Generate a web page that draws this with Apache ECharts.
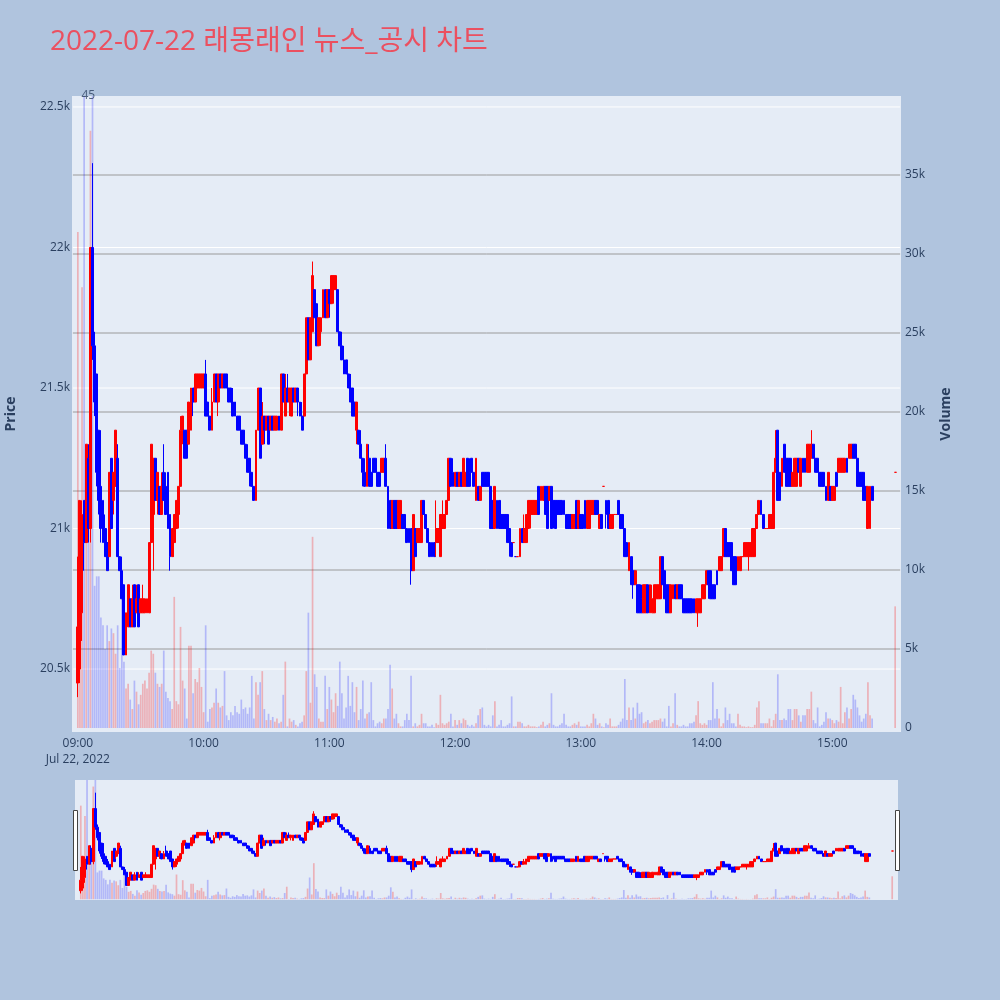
<!DOCTYPE html>
<html>
<head>
<meta charset="utf-8">
<title>chart</title>
<script src="https://cdn.jsdelivr.net/npm/echarts@6/dist/echarts.min.js"></script>
<style>
html,body{margin:0;padding:0;background:#B0C4DE;}
#chart{width:1000px;height:1000px;}
</style>
</head>
<body>
<div id="chart"></div>
<script>
const titleText = '2022-07-22 래몽래인 뉴스_공시 차트';
const hourLabels = ['09:00','10:00','11:00','12:00','13:00','14:00','15:00'];
const dateLabel = 'Jul 22, 2022';
const priceTicks = [20500, 21000, 21500, 22000, 22500];
const volumeTicks = [0, 5000, 10000, 15000, 20000, 25000, 30000, 35000];
const priceRange = [20276, 22539];
const volumeRange = [-253, 40000];

// one candle per minute from 09:00
const openP = [
20450,20500,20700,21100,20950,21250,21000,22000,21650,21550,
21350,21150,21100,21000,20950,20900,21250,21100,21150,21250,
20900,20850,20800,20550,20650,20750,20650,20800,20700,20800,
20700,20700,20700,20700,20700,20950,21050,21250,21100,21150,
21050,21200,21150,21200,21050,20900,20950,21000,21050,21150,
21350,21350,21350,21300,21350,21500,21450,21500,21500,21500,
21500,21550,21450,21400,21350,21450,21550,21450,21550,21500,
21550,21550,21500,21500,21450,21450,21400,21400,21350,21350,
21300,21250,21250,21200,21150,21100,21350,21500,21300,21400,
21350,21400,21350,21400,21350,21350,21400,21350,21550,21400,
21500,21450,21400,21500,21450,21500,21450,21400,21400,21550,
21750,21600,21700,21850,21800,21650,21700,21750,21850,21750,
21850,21800,21850,21850,21850,21700,21650,21600,21600,21550,
21500,21500,21450,21350,21350,21300,21250,21200,21150,21250,
21200,21250,21250,21200,21200,21200,21200,21250,21150,21100,
21000,21100,21100,21000,21000,21050,21050,21000,21000,21000,
20850,21000,20950,20950,20950,21100,21050,21000,20950,20950,
20950,20950,20950,20900,21000,21000,21050,21100,21250,21200,
21150,21200,21150,21200,21150,21150,21250,21200,21250,21200,
21100,21150,21100,21200,21200,21200,21200,21150,21100,21000,
21100,21100,21050,21050,21050,21050,21000,20950,20950,20900,
20900,20900,21000,20950,20950,21000,21050,21050,21050,21050,
21150,21100,21100,21150,21150,21100,21150,21100,21100,21100,
21100,21100,21100,21050,21050,21050,21000,21000,21100,21000,
21050,21050,21100,21000,21000,21050,21050,21100,21100,21000,
21050,21150,21100,21100,21000,21000,21050,21050,21100,21050,
21050,21000,20950,20850,20900,20850,20800,20800,20800,20750,
20700,20700,20800,20700,20700,20700,20750,20750,20750,20900,
20850,20800,20800,20700,20750,20800,20750,20800,20800,20750,
20750,20750,20750,20750,20750,20700,20700,20700,20750,20750,
20800,20850,20850,20800,20800,20850,20850,20850,20900,21000,
20950,20950,20950,20900,20900,20850,20850,20900,20900,20900,
20900,20900,20900,20900,21000,21050,21100,21050,21000,21000,
21000,21000,21000,21200,21350,21200,21150,21300,21250,21250,
21250,21150,21150,21150,21250,21150,21250,21250,21200,21200,
21250,21300,21250,21250,21200,21200,21200,21150,21100,21150,
21100,21100,21200,21200,21200,21200,21200,21250,21250,21250,
21300,21300,21250,21200,21200,21200,21150,21000,21000,21150
];
const closeP = [
20650,21100,21050,20950,21300,21000,22000,21650,21450,21200,
21100,21000,20950,20900,20850,21200,21000,21200,21350,20900,
20850,20750,20550,20700,20800,20650,20750,20650,20750,20650,
20750,20750,20750,20750,20950,21300,21250,21100,21200,21050,
21150,21100,21050,21000,20900,21000,21050,21100,21150,21350,
21400,21250,21250,21450,21500,21450,21550,21550,21550,21550,
21550,21400,21400,21350,21450,21550,21450,21550,21500,21550,
21500,21500,21450,21450,21400,21400,21350,21350,21300,21300,
21250,21200,21200,21150,21100,21350,21500,21250,21400,21350,
21400,21300,21400,21350,21400,21400,21350,21550,21450,21500,
21450,21500,21500,21450,21500,21450,21400,21350,21550,21750,
21600,21750,21900,21750,21650,21750,21750,21850,21750,21850,
21800,21900,21900,21900,21700,21650,21600,21550,21550,21500,
21450,21400,21400,21450,21300,21250,21200,21150,21300,21150,
21150,21200,21200,21150,21150,21250,21250,21150,21000,21000,
21100,21000,21000,21100,21100,21000,21000,20950,20950,20850,
21050,20900,21000,21000,21100,21050,21000,20950,20900,20900,
20900,21000,21000,21050,21050,21050,21100,21250,21150,21150,
21200,21150,21200,21150,21250,21200,21150,21150,21200,21150,
21250,21100,21150,21150,21150,21150,21150,21000,21000,21150,
21000,21000,21000,21000,21000,20950,20950,20900,20950,20900,
20900,21000,20950,21000,21050,21100,21100,21100,21100,21100,
21050,21150,21150,21050,21000,21150,21000,21050,21000,21050,
21050,21050,21050,21000,21000,21000,21050,21050,21000,21100,
21000,21000,21000,21100,21100,21100,21100,21050,21050,21050,
21000,21150,21050,21000,21050,21050,21050,21050,21050,21000,
21000,20900,20900,20950,20800,20800,20850,20700,20700,20700,
20800,20800,20700,20800,20750,20800,20800,20800,20900,20800,
20750,20700,20700,20800,20800,20750,20800,20750,20750,20700,
20700,20700,20700,20700,20700,20750,20750,20750,20800,20800,
20850,20800,20750,20750,20750,20800,20900,20900,21000,20900,
20900,20900,20850,20800,20800,20900,20900,20900,20950,20950,
20950,20950,21000,21000,21050,21100,21050,21000,21000,21000,
21050,21050,21200,21250,21100,21100,21250,21200,21150,21150,
21150,21200,21250,21250,21200,21250,21200,21200,21300,21300,
21300,21250,21200,21200,21150,21150,21150,21100,21200,21100,
21150,21150,21150,21250,21250,21250,21250,21200,21300,21300,
21250,21250,21150,21150,21150,21100,21100,21150,21150,21100
];
const lowP = [
20400,20450,20600,20850,20950,20950,20950,21600,21400,21150,
21050,20950,20950,20900,20850,20900,21000,21050,21150,20900,
20850,20750,20550,20550,20650,20650,20650,20650,20700,20650,
20700,20700,20700,20700,20700,20950,20850,21100,21050,21050,
21050,21100,21050,21000,20850,20900,20900,21000,21000,21150,
21300,21250,21250,21300,21350,21400,21450,21500,21500,21500,
21500,21400,21400,21350,21350,21450,21450,21400,21500,21500,
21500,21500,21450,21450,21400,21400,21350,21350,21300,21300,
21250,21200,21150,21150,21100,21100,21350,21250,21300,21300,
21350,21300,21350,21350,21350,21350,21350,21350,21450,21400,
21450,21400,21400,21450,21450,21400,21400,21350,21400,21550,
21600,21600,21700,21750,21650,21650,21650,21750,21750,21750,
21750,21800,21800,21850,21700,21650,21600,21550,21550,21500,
21450,21400,21400,21300,21300,21250,21150,21150,21150,21150,
21150,21200,21200,21150,21150,21200,21200,21150,21000,21000,
21000,21000,21000,21000,21000,21000,21000,20950,20950,20800,
20850,20900,20950,20950,20950,21050,21000,20950,20900,20900,
20900,20900,20950,20900,21000,21000,21050,21100,21150,21150,
21150,21150,21150,21150,21150,21150,21150,21150,21200,21150,
21100,21100,21100,21150,21150,21150,21150,21000,21000,21000,
21000,21000,21000,21000,21000,20950,20900,20900,20950,20900,
20900,20900,20950,20950,20950,21000,21000,21050,21050,21050,
21050,21100,21100,21050,21000,21100,21000,21000,21000,21050,
21050,21050,21050,21000,21000,21000,21000,21000,21000,21000,
21000,21000,21000,21000,21000,21050,21050,21050,21050,21000,
21000,21150,21000,21000,21000,21000,21050,21050,21050,21000,
21000,20900,20900,20850,20800,20750,20800,20700,20700,20700,
20700,20700,20700,20700,20700,20700,20750,20750,20750,20800,
20750,20700,20700,20700,20750,20750,20750,20750,20750,20700,
20700,20700,20700,20700,20700,20700,20650,20700,20750,20750,
20800,20750,20750,20750,20750,20800,20850,20850,20900,20900,
20900,20900,20850,20800,20800,20850,20850,20900,20900,20900,
20850,20900,20900,20900,21000,21050,21050,21000,21000,21000,
21000,21000,21000,21200,21100,21100,21150,21200,21150,21150,
21150,21150,21150,21150,21200,21150,21200,21200,21200,21200,
21250,21250,21200,21200,21150,21150,21150,21100,21100,21100,
21100,21100,21150,21200,21200,21200,21200,21200,21250,21250,
21250,21250,21150,21150,21150,21100,21100,21000,21000,21100
];
const highP = [
20900,21100,21100,21100,21300,21300,22000,22300,21700,21550,
21350,21350,21100,21050,20950,21200,21250,21200,21350,21300,
20900,20900,20800,20700,20800,20750,20800,20800,20800,20800,
20750,20800,20750,20750,20950,21300,21250,21250,21200,21150,
21200,21300,21200,21200,21050,21000,21050,21100,21150,21400,
21400,21350,21350,21450,21500,21500,21550,21550,21550,21550,
21550,21600,21450,21400,21500,21550,21550,21550,21550,21550,
21550,21550,21500,21500,21500,21450,21400,21400,21350,21350,
21300,21300,21250,21200,21150,21350,21500,21500,21450,21400,
21400,21400,21400,21400,21400,21400,21400,21550,21550,21550,
21550,21500,21500,21500,21500,21500,21450,21450,21550,21750,
21750,21750,21950,21850,21800,21750,21750,21850,21850,21850,
21850,21900,21900,21900,21850,21700,21700,21650,21600,21550,
21550,21500,21450,21450,21350,21350,21250,21250,21300,21300,
21200,21250,21250,21200,21200,21250,21250,21300,21150,21100,
21100,21100,21100,21100,21100,21050,21050,21000,21000,21000,
21050,21000,21000,21000,21100,21100,21050,21000,20950,20950,
20950,21100,21000,21050,21100,21050,21100,21250,21250,21250,
21200,21200,21200,21200,21250,21200,21250,21250,21250,21200,
21250,21150,21150,21200,21200,21200,21200,21150,21100,21150,
21100,21100,21050,21050,21050,21050,21000,20950,20950,20900,
20900,21000,21000,21050,21050,21100,21100,21100,21100,21100,
21150,21150,21150,21150,21150,21150,21150,21100,21100,21100,
21100,21100,21100,21050,21050,21050,21050,21050,21100,21100,
21050,21050,21100,21100,21100,21100,21100,21100,21100,21050,
21050,21150,21100,21100,21050,21050,21050,21050,21100,21050,
21050,21000,20950,20950,20900,20850,20850,20800,20800,20800,
20800,20800,20800,20800,20800,20800,20800,20800,20900,20900,
20850,20800,20800,20800,20800,20800,20800,20800,20800,20750,
20750,20750,20750,20750,20750,20750,20750,20750,20800,20800,
20850,20850,20850,20800,20800,20850,20900,20900,21000,21000,
20950,20950,20950,20900,20900,20900,20900,20900,20950,20950,
20950,20950,21000,21000,21050,21100,21100,21050,21000,21000,
21050,21050,21200,21350,21350,21200,21250,21300,21250,21250,
21250,21200,21250,21250,21250,21250,21250,21250,21300,21300,
21350,21300,21250,21250,21200,21200,21200,21150,21200,21150,
21150,21150,21200,21250,21250,21250,21250,21250,21300,21300,
21300,21300,21250,21200,21200,21200,21150,21150,21150,21150
];
const volumes = [
31400,14000,27900,42000,12000,14000,37800,42000,9000,9600,
9600,7000,6500,5000,6500,5500,6300,6000,4700,6500,
3800,8400,4200,2500,2800,1800,1200,3000,2300,1500,
2100,2800,3000,2500,3500,4900,4700,3500,2800,2600,
2800,4900,2300,1900,1700,1200,8300,1700,1500,6400,
3000,2500,600,5200,5200,2200,3100,2900,3800,2600,
1000,6500,400,1200,1300,1600,2500,1600,1300,1400,
3600,800,500,1000,800,1400,1000,900,1800,1200,
1300,900,1300,3300,600,2900,2100,2900,3600,1200,
500,900,500,700,400,600,300,400,2100,4200,
100,600,400,500,200,100,300,400,800,3600,
7300,1600,12100,3400,2600,600,400,400,3300,1200,
2600,1800,1000,2200,1400,4200,2200,600,1300,3300,
1400,2900,1000,2600,500,1200,3000,600,900,1000,
2900,500,100,300,400,300,600,600,1200,4000,
2500,600,900,300,100,100,500,900,500,3300,
100,300,100,200,900,300,300,100,100,200,
50,300,200,2100,300,200,300,400,900,100,
500,200,500,300,600,500,200,100,200,100,
300,800,1200,1300,200,100,200,100,800,1700,
100,200,500,100,100,200,300,2000,100,100,
400,400,300,100,100,200,100,100,100,50,
100,200,400,100,200,300,2200,200,100,100,
200,300,900,200,100,100,200,300,200,400,
100,100,100,200,100,300,900,600,200,300,
100,50,300,200,600,100,100,100,200,400,
600,3100,500,1300,500,1300,600,1600,900,1000,
300,400,500,300,400,500,500,500,600,400,
600,100,1400,100,300,2200,200,100,100,200,
100,100,300,300,400,800,1700,300,200,300,
200,500,500,2900,600,1200,600,100,300,1300,
500,900,300,300,100,900,200,100,100,50,
100,50,50,200,1300,1700,300,300,300,300,
600,100,500,900,3400,500,500,600,500,1200,
1200,500,1200,1200,800,400,800,800,1200,1200,
2300,500,300,1300,100,200,400,1000,600,600,
500,300,500,400,2600,300,1000,1300,600,1200,
2100,1800,1300,800,400,600,900,2900,800,600
];
// closing auction candle
const closingAuction = {time: '15:30', open: 21200, close: 21200, low: 21200, high: 21200, volume: 7700};
// news count annotation
const newsMarks = [{time: '09:05', label: '45'}];

const FONT = "'Open Sans', 'Noto Sans CJK KR', sans-serif";
const TXT = '#2a3f5f';
const UP = '#ff0000', DOWN = '#0000ff';
const UP_VOL = 'rgba(255,0,0,0.25)', DOWN_VOL = 'rgba(0,0,255,0.22)';
const MINUTE = 60000;
function clock(s){ const p = s.split(':'); return new Date(2022, 6, 22, +p[0], +p[1], 0).getTime(); }
const dayStart = clock(hourLabels[0]);

const rows = openP.map((o, i) => ({t: dayStart + i * MINUTE, o: o, c: closeP[i], l: lowP[i], h: highP[i], v: volumes[i]}));
rows.push({t: clock(closingAuction.time), o: closingAuction.open, c: closingAuction.close, l: closingAuction.low, h: closingAuction.high, v: closingAuction.volume});

const candleData = rows.map(r => [r.t, r.o, r.c, r.l, r.h]);
const volData = rows.map((r, i) => {
  const prev = i > 0 ? rows[i - 1].c : r.c;
  const up = r.c > r.o || (r.c === r.o && prev <= r.c);
  return {value: [r.t, r.v], itemStyle: {color: up ? UP_VOL : DOWN_VOL}};
});

const pad = 2.38 * MINUTE;
const xMin = dayStart - pad;
const xMax = clock(closingAuction.time) + pad;

function hLine(v, yi, color) {
  return {type: 'line', xAxisIndex: 0, yAxisIndex: yi, data: [[xMin, v], [xMax, v]], symbol: 'none',
    silent: true, z: 1, lineStyle: {color: color, width: 1}, animation: false};
}
function fmtK(v){ return v === 0 ? '0' : (v / 1000) + 'k'; }
function fmtX(v){
  const d = new Date(v);
  if (d.getMinutes() !== 0 || d.getSeconds() !== 0) return '';
  const s = String(d.getHours()).padStart(2, '0') + ':00';
  const k = hourLabels.indexOf(s);
  if (k < 0) return '';
  return k === 0 ? s + '\n' + dateLabel : s;
}

const chart = echarts.init(document.getElementById('chart'), null, {renderer: 'canvas'});
chart.setOption({
  animation: false,
  backgroundColor: '#B0C4DE',
  textStyle: {fontFamily: FONT},
  title: {text: titleText, left: 45, top: 23,
    textStyle: {color: '#EB5060', fontSize: 28, fontWeight: 'normal', fontFamily: FONT}},
  grid: [
    {left: 72, right: 99, top: 96, bottom: 268, show: true, backgroundColor: '#E5ECF6', borderWidth: 0, containLabel: false, outerBoundsMode: 'none'},
    {left: 75, right: 102, top: 780, height: 120, show: true, backgroundColor: '#E5ECF6', borderWidth: 0, containLabel: false, outerBoundsMode: 'none'}
  ],
  xAxis: [
    {type: 'time', gridIndex: 0, min: xMin, max: xMax, minInterval: 3600000, maxInterval: 3600000,
     axisLine: {show: false}, axisTick: {show: false}, splitLine: {show: false},
     axisLabel: {formatter: fmtX, color: TXT, fontSize: 12, fontFamily: FONT, margin: 4, lineHeight: 16, hideOverlap: false}},
    {type: 'time', gridIndex: 1, min: xMin, max: xMax, show: false}
  ],
  yAxis: [
    {type: 'value', gridIndex: 0, position: 'left', min: priceRange[0], max: priceRange[1], splitNumber: 5,
     name: 'Price', nameLocation: 'middle', nameGap: 54,
     nameTextStyle: {color: TXT, fontSize: 14, fontWeight: 'bold', fontFamily: FONT},
     axisLine: {show: false}, axisTick: {show: false}, splitLine: {show: false},
     axisLabel: {formatter: v => priceTicks.includes(v) ? fmtK(v) : '', color: TXT, fontSize: 12, fontFamily: FONT, margin: 2}},
    {type: 'value', gridIndex: 0, position: 'right', min: volumeRange[0], max: volumeRange[1], splitNumber: 8,
     name: 'Volume', nameLocation: 'middle', nameGap: 38,
     nameTextStyle: {color: TXT, fontSize: 14, fontWeight: 'bold', fontFamily: FONT},
     axisLine: {show: false}, axisTick: {show: false}, splitLine: {show: false},
     axisLabel: {formatter: v => volumeTicks.includes(v) ? fmtK(v) : '', color: TXT, fontSize: 12, fontFamily: FONT, margin: 4}},
    {type: 'value', gridIndex: 1, min: priceRange[0], max: priceRange[1], show: false, splitLine: {show: false}},
    {type: 'value', gridIndex: 1, min: volumeRange[0], max: volumeRange[1], show: false, splitLine: {show: false}}
  ],
  graphic: [
    {type: 'rect', shape: {x: 73.5, y: 810.5, width: 4, height: 60}, style: {fill: '#ffffff', stroke: '#444444', lineWidth: 1}, z: 100},
    {type: 'rect', shape: {x: 895.5, y: 810.5, width: 4, height: 60}, style: {fill: '#ffffff', stroke: '#444444', lineWidth: 1}, z: 100}
  ],
  series: [
    ...priceTicks.map(v => hLine(v, 0, '#ffffff')),
    ...volumeTicks.filter(v => v > 0).map(v => hLine(v, 1, '#9a9a9a')),
    {type: 'bar', xAxisIndex: 0, yAxisIndex: 1, data: volData, barWidth: 1.7, z: 2, silent: true},
    {type: 'candlestick', xAxisIndex: 0, yAxisIndex: 0, data: candleData,
     dimensions: ['time', 'open', 'close', 'lowest', 'highest'],
     encode: {x: 'time', y: ['open', 'close', 'lowest', 'highest']},
     barWidth: 2.4, z: 3,
     itemStyle: {color: UP, color0: DOWN, borderColor: UP, borderColor0: DOWN, borderWidth: 1}},
    {type: 'scatter', xAxisIndex: 0, yAxisIndex: 0, clip: false, z: 6,
     data: newsMarks.map(n => [clock(n.time), priceRange[1]]),
     symbolSize: 1, itemStyle: {color: 'rgba(0,0,0,0)'},
     label: {show: true, position: 'inside', formatter: p => newsMarks[p.dataIndex].label, color: TXT, fontSize: 12, fontFamily: FONT}},
    {type: 'bar', xAxisIndex: 1, yAxisIndex: 3, data: volData, barWidth: 1.7, z: 2, silent: true},
    {type: 'candlestick', xAxisIndex: 1, yAxisIndex: 2, data: candleData,
     dimensions: ['time', 'open', 'close', 'lowest', 'highest'],
     encode: {x: 'time', y: ['open', 'close', 'lowest', 'highest']},
     barWidth: 2.4, z: 3,
     itemStyle: {color: UP, color0: DOWN, borderColor: UP, borderColor0: DOWN, borderWidth: 1}}
  ]
});
</script>
</body>
</html>
